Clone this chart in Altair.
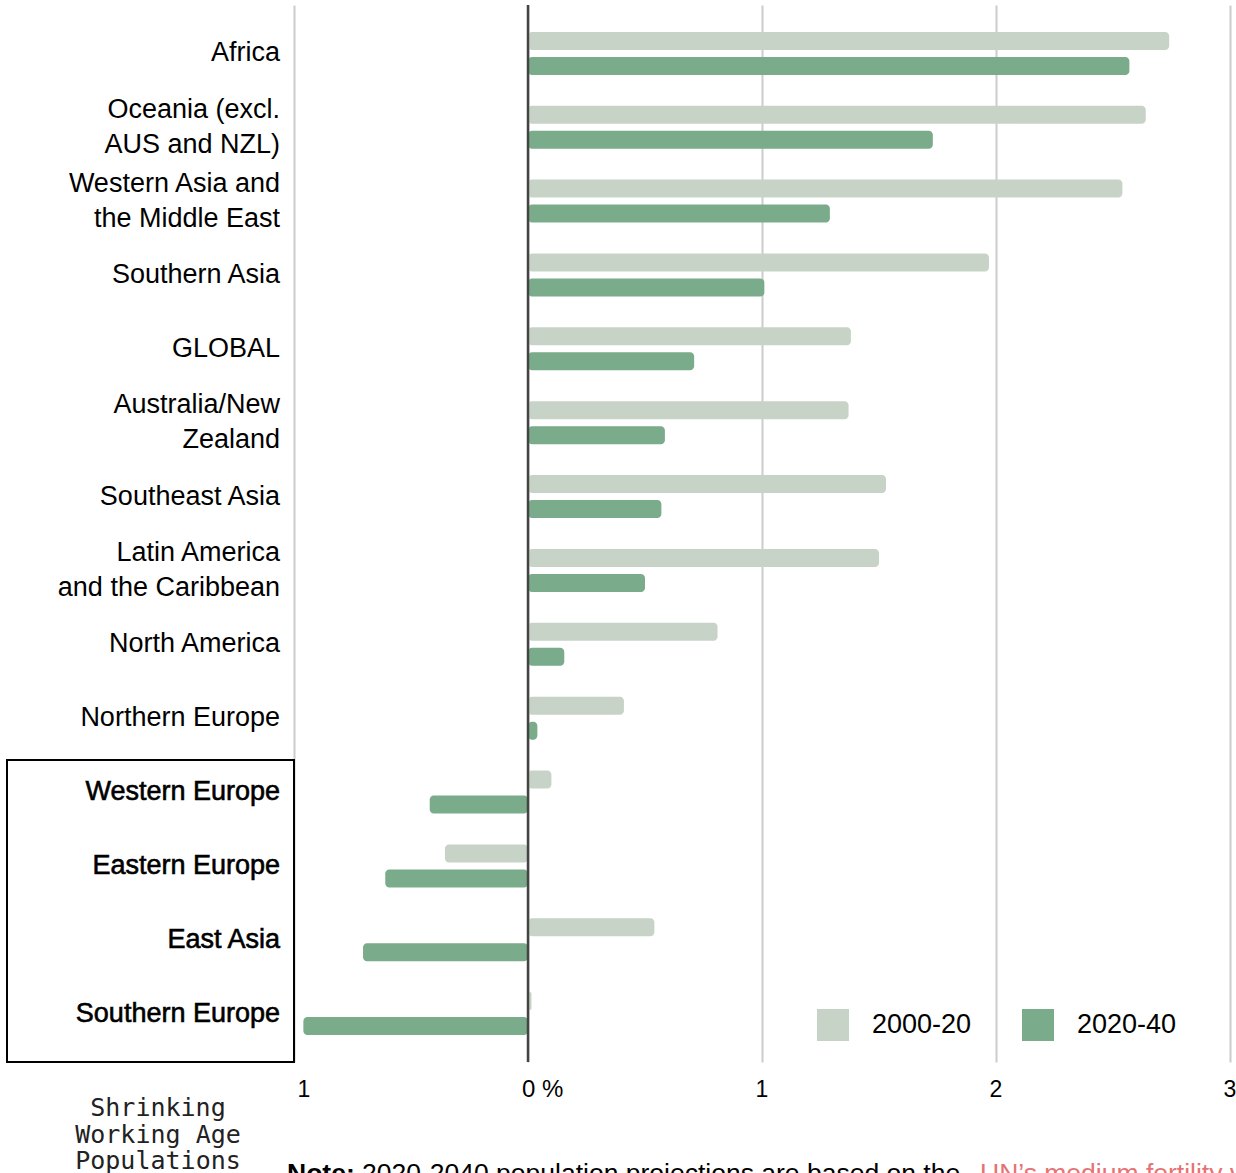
import altair as alt
import pandas as pd

categories = ["Africa", "Oceania (excl. AUS and NZL)", "Western Asia and the Middle East",
              "Southern Asia", "GLOBAL", "Australia/New Zealand", "Southeast Asia",
              "Latin America and the Caribbean", "North America", "Northern Europe",
              "Western Europe", "Eastern Europe", "East Asia", "Southern Europe"]
label_lines = ["Africa", "Oceania (excl.\nAUS and NZL)", "Western Asia and\nthe Middle East",
               "Southern Asia", "GLOBAL", "Australia/New\nZealand", "Southeast Asia",
               "Latin America\nand the Caribbean", "North America", "Northern Europe",
               "Western Europe", "Eastern Europe", "East Asia", "Southern Europe"]
shrinking = [False] * 10 + [True] * 4
series = ["2000-20", "2020-40"]
growth_2000_20 = [2.74, 2.64, 2.54, 1.97, 1.38, 1.37, 1.53, 1.50, 0.81, 0.41, 0.10, -0.355, 0.54, 0.015]
growth_2020_40 = [2.57, 1.73, 1.29, 1.01, 0.71, 0.585, 0.57, 0.50, 0.155, 0.04, -0.42, -0.61, -0.705, -0.96]
tick_values = [-1, 0, 1, 2, 3]
tick_labels = ["1", "0 %", "1", "2", "3"]
colors = ["#c8d3c7", "#7aab8a"]
caption = "Shrinking\nWorking Age\nPopulations"
note_parts = ["Note:", "2020-2040 population projections are based on the ", "UN\u2019s medium fertility variant"]

rows = []
for c, a, b in zip(categories, growth_2000_20, growth_2020_40):
    rows.append({"category": c, "series": series[0], "value": a})
    rows.append({"category": c, "series": series[1], "value": b})
df = pd.DataFrame(rows)
labels_df = pd.DataFrame({"category": categories, "label": label_lines, "shrinking": shrinking})
ticks_df = pd.DataFrame({"v": tick_values, "t": tick_labels})

FONT = "Liberation Sans"
LFS = 27
W, H = 936, 1057
xsc = alt.Scale(domain=[-1, 3], nice=False, zero=False)
ysc = alt.Scale(domain=categories, paddingInner=0.418, paddingOuter=0.364)

bars = alt.Chart(df).transform_calculate(base="0").mark_bar(cornerRadius=4).encode(
    x=alt.X("base:Q", scale=xsc,
            axis=alt.Axis(values=tick_values, labels=False, ticks=False, domain=False,
                          grid=True, gridColor="#cccccc", gridWidth=2, title=None)),
    x2="value:Q",
    y=alt.Y("category:N", scale=ysc, axis=None),
    yOffset=alt.YOffset("series:N", scale=alt.Scale(domain=series, paddingInner=0.28, paddingOuter=0)),
    color=alt.Color("series:N", scale=alt.Scale(domain=series, range=colors),
                    legend=alt.Legend(orient="none", legendX=523, legendY=1004, direction="horizontal",
                                      title=None, symbolType="square", symbolSize=1024,
                                      symbolStrokeWidth=0, symbolOpacity=1, labelFontSize=27,
                                      labelFont=FONT, labelColor="#000000", labelOffset=23,
                                      columnPadding=50, padding=0)),
)

zero = alt.Chart(pd.DataFrame({"v": [0]})).mark_rule(color="#444444", strokeWidth=2.5).encode(
    x=alt.X("v:Q", scale=xsc))

one_line = "indexof(datum.label, '\\n') < 0"
two_line = "indexof(datum.label, '\\n') >= 0"


def label_layer(filter_expr, dy, bold):
    extra = dict(stroke="#000000", strokeWidth=0.6) if bold else {}
    return alt.Chart(labels_df).transform_filter(
        filter_expr + (" && datum.shrinking" if bold else " && !datum.shrinking")
    ).mark_text(
        align="right", baseline="middle", font=FONT, fontSize=LFS, lineBreak="\n", lineHeight=35,
        color="#000000", dy=dy, **extra).encode(
        y=alt.Y("category:N", scale=ysc), x=alt.value(-14), text="label:N")


ylab1 = label_layer(one_line, 0, False)
ylab2 = label_layer(two_line, -17.5, False)
ylab_b = label_layer(one_line, 0, True)

box = alt.Chart(pd.DataFrame({"a": [0]})).mark_rect(fillOpacity=0, stroke="#000000", strokeWidth=2).encode(
    x=alt.value(-287), x2=alt.value(0), y=alt.value(755), y2=alt.value(1057))

tick_c = alt.Chart(ticks_df).transform_filter("datum.v > 0").mark_text(
    align="center", baseline="middle", font=FONT, fontSize=23, color="#000000").encode(
    x=alt.X("v:Q", scale=xsc), y=alt.value(1085), text="t:N")
tick_0 = alt.Chart(ticks_df).transform_filter("datum.v == 0").mark_text(
    align="left", baseline="middle", font=FONT, fontSize=24, dx=-6, color="#000000").encode(
    x=alt.X("v:Q", scale=xsc), y=alt.value(1085), text="t:N")
tick_m = alt.Chart(ticks_df).transform_filter("datum.v < 0").mark_text(
    align="center", baseline="middle", font=FONT, fontSize=23, dx=10, color="#000000").encode(
    x=alt.X("v:Q", scale=xsc), y=alt.value(1085), text="t:N")

cap = alt.Chart(pd.DataFrame({"t": [caption]})).mark_text(
    align="center", baseline="middle", font="DejaVu Sans Mono", fontSize=25, lineBreak="\n",
    lineHeight=26.5, color="#222222").encode(
    x=alt.value(-136), y=alt.value(1103), text="t:N")

note_df = pd.DataFrame({"t": note_parts})
NFS = 26.5
n1 = alt.Chart(note_df).transform_filter(alt.datum.t == note_parts[0]).mark_text(
    align="left", baseline="alphabetic", font=FONT, fontSize=NFS, fontWeight="bold", color="#000000").encode(
    x=alt.value(-7), y=alt.value(1177), text="t:N")
n2 = alt.Chart(note_df).transform_filter(alt.datum.t == note_parts[1]).mark_text(
    align="left", baseline="alphabetic", font=FONT, fontSize=NFS, color="#000000").encode(
    x=alt.value(68), y=alt.value(1177), text="t:N")
n3 = alt.Chart(note_df).transform_filter(alt.datum.t == note_parts[2]).mark_text(
    align="left", baseline="alphabetic", font=FONT, fontSize=NFS, color="#e57373").encode(
    x=alt.value(686), y=alt.value(1177), text="t:N")

chart = alt.layer(bars, zero, ylab1, ylab2, ylab_b, box, tick_c, tick_0, tick_m, cap, n1, n2, n3).properties(
    width=W, height=H,
    autosize=alt.AutoSizeParams(type="none"),
    padding={"left": 294, "top": 5, "right": 6, "bottom": 111},
).configure(font=FONT).configure_view(stroke="transparent", strokeWidth=0)

chart.save("out.html", embed_options={"renderer": "svg", "actions": False})
